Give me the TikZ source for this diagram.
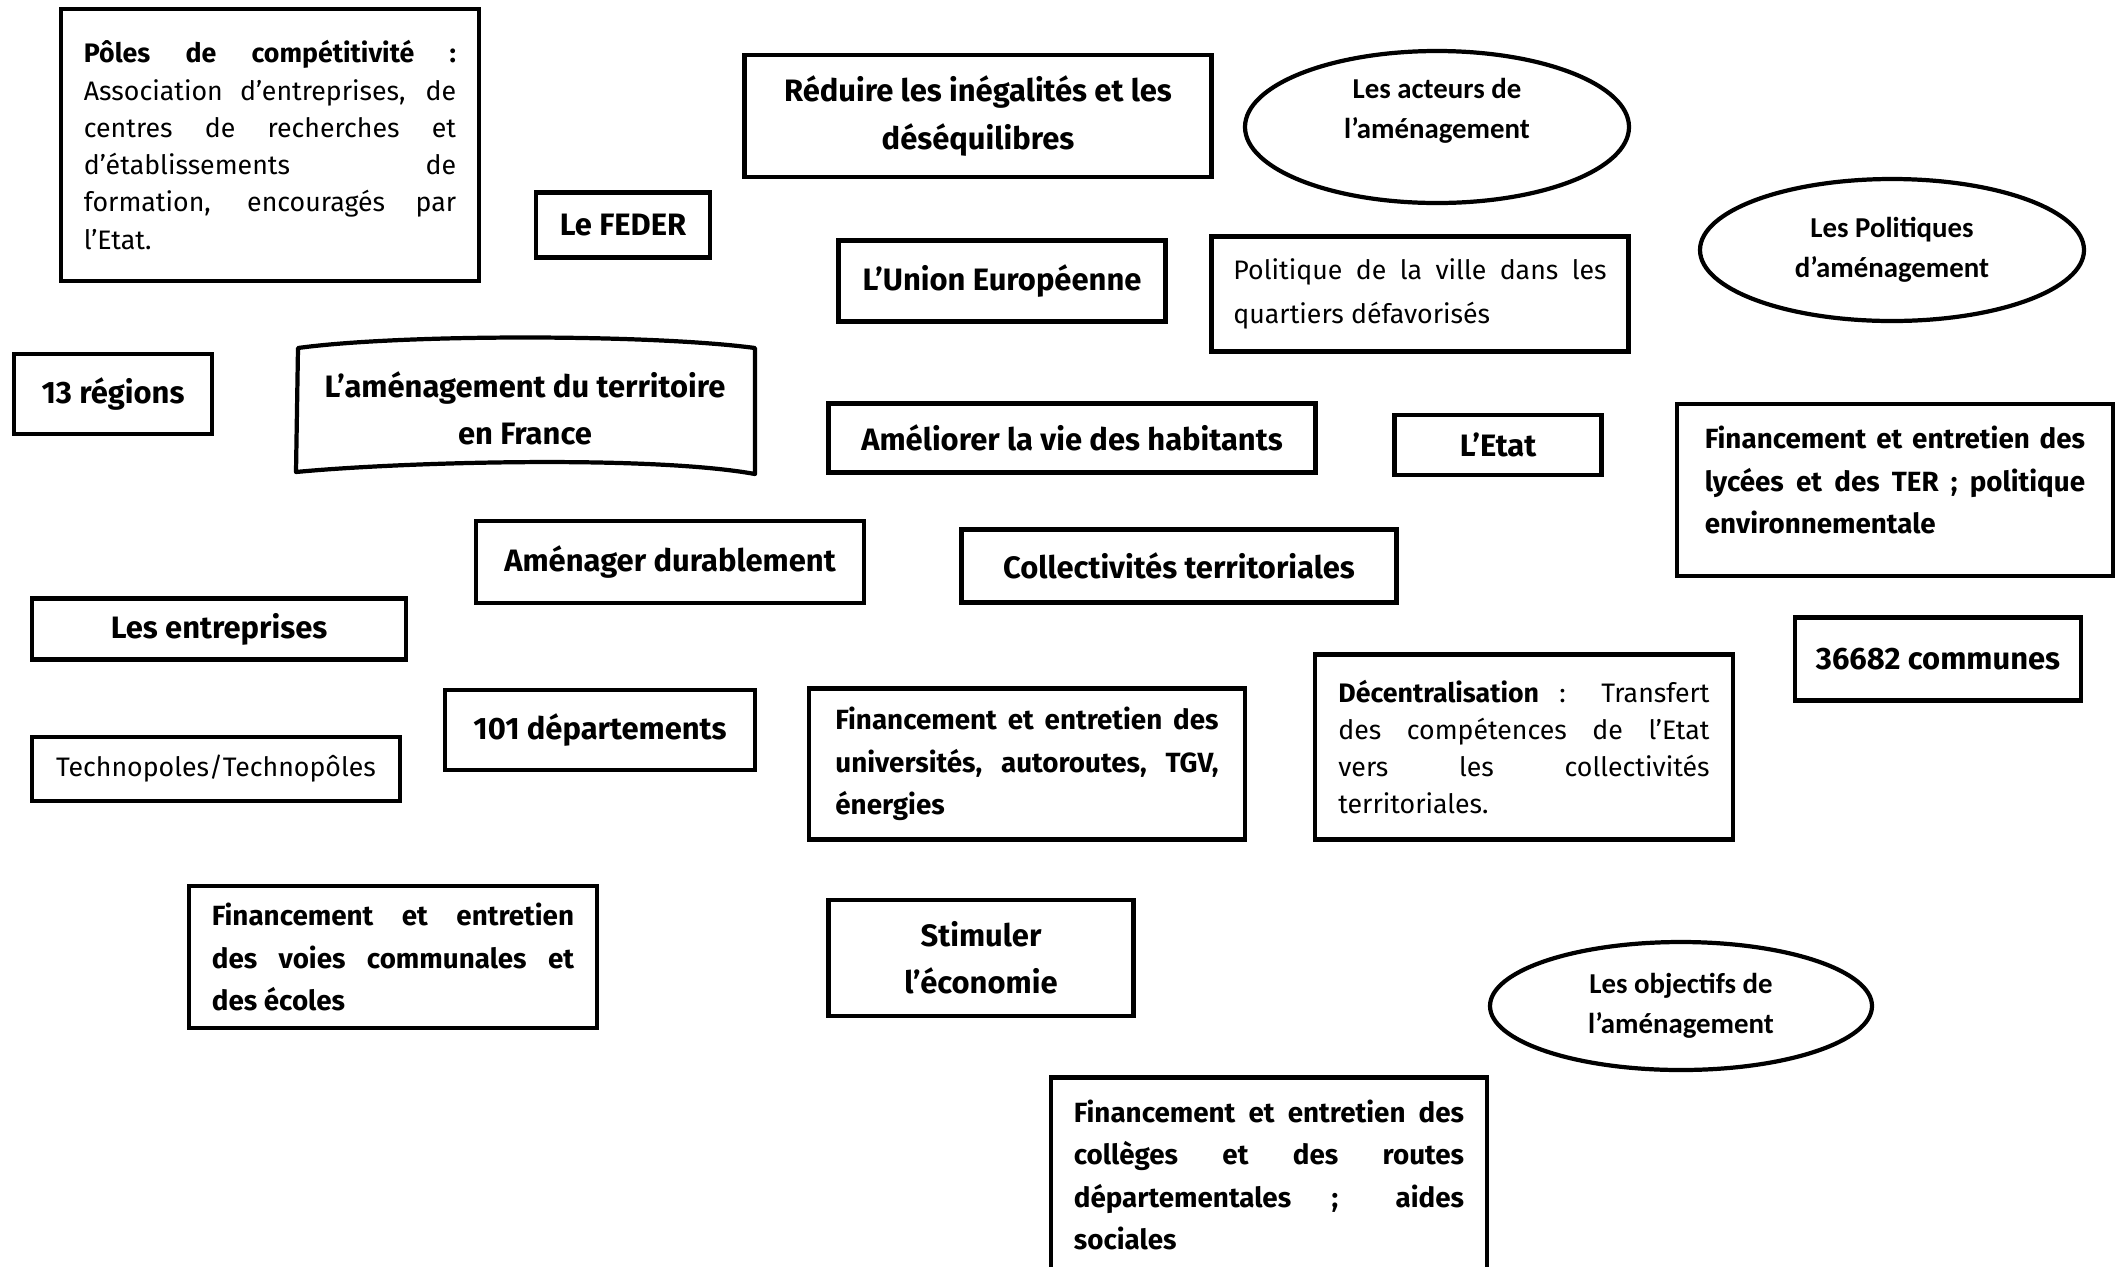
\documentclass[tikz,border=0pt]{standalone}
\usepackage{fontspec}
\setmainfont{Fira Sans}
\newfontfamily\calib{Carlito}
\usetikzlibrary{positioning,shapes.geometric}
\hyphenpenalty=10000
\exhyphenpenalty=10000
\newcommand{\boxlbl}{\fontsize{8.8}{13.4}\selectfont\bfseries}
\newcommand{\boldpara}{\fontsize{7.9}{12.1}\selectfont\bfseries}
\newcommand{\paratxt}{\fontsize{7.6}{10.6}\selectfont}
\newcommand{\ovaltxt}{\calib\fontsize{8.2}{11.5}\selectfont\bfseries}
\tikzset{B node/.style={draw,line width=1.2pt,inner sep=0pt,align=center,font=\boxlbl},
	O node/.style={ellipse,draw,line width=1.2pt,inner sep=0pt,align=center,font=\ovaltxt},
	wh/.style 2 args={minimum width=#1*0.01cm,minimum height=#2*0.01cm},}

\begin{document}
\begin{tikzpicture}[x=0.01cm,y=-0.01cm]
			\useasboundingbox (0,0) rectangle (2121,1266);

			\node[B node, wh={418}{272}, text width=3.72cm, align=justify, font=\paratxt] (poles) at (270,145) {\textbf{Pôles de compétitivité~:}\linebreak Association d’entreprises, de\linebreak centres de recherches et\linebreak d’établissements de\linebreak formation, encouragés par\linebreak l’Etat.};
			\node[B node, wh={467}{122}] (reduire) at (978,116) {Réduire les inégalités et les\\déséquilibres};
			\node[B node, wh={174}{65}] (feder) at (623,225) {Le FEDER};
			\node[B node, wh={327}{81}] (ue) at (1002,281) {L’Union Européenne};
			\node[B node, wh={417}{115}, text width=3.73cm, align=justify, font=\fontsize{7.6}{12.3}\selectfont] (ville) at (1420,294) {Politique de la ville dans les\linebreak quartiers défavorisés};
			\node[B node, wh={198}{80}] (regions) at (113,394) {13 régions};
			\node[B node, wh={487}{69}] (ameliorer) at (1072,438) {Améliorer la vie des habitants};
			\node[B node, wh={207}{60}] (etat) at (1498,445) {L’Etat};
			\node[B node, wh={436}{172}, text width=3.8cm, align=justify, font=\boldpara] (lycees) at (1895,490) {Financement et entretien des\linebreak lycées et des TER~; politique\linebreak environnementale\par\vspace{0.2cm}\hrule height 0pt};
			\node[B node, wh={388}{82}] (durable) at (670,562) {Aménager durablement};
			\node[B node, wh={435}{73}] (collectivites) at (1179,566) {Collectivités territoriales};
			\node[B node, wh={374}{61}] (entreprises) at (219,629) {Les entreprises};
			\node[B node, wh={286}{83}] (communes) at (1938,659) {36682 communes};
			\node[B node, wh={418}{185}, text width=3.71cm, align=justify, font=\paratxt] (decentral) at (1524,747) {\textbf{Décentralisation}~: Transfert\linebreak des compétences de l’Etat\linebreak vers les collectivités\linebreak territoriales.};
			\node[B node, wh={310}{80}] (departements) at (600,730) {101 départements};
			\node[B node, wh={436}{151}, text width=3.83cm, align=justify, font=\boldpara] (univ) at (1027,764) {Financement et entretien des\linebreak universités, autoroutes, TGV,\linebreak énergies};
			\node[B node, wh={368}{64}, font=\paratxt] (techno) at (216,769) {Technopoles/Technopôles};
			\node[B node, wh={408}{142}, text width=3.62cm, align=justify, font=\boldpara] (voies) at (393,957) {Financement et entretien\linebreak des voies communales et\linebreak des écoles};
			\node[B node, wh={305}{116}] (stimuler) at (981,958) {Stimuler\\l’économie};
			\node[B node, wh={436}{195}, text width=3.9cm, align=justify, font=\boldpara] (colleges) at (1269,1175) {Financement et entretien des\linebreak collèges et des routes\linebreak départementales~; aides\linebreak sociales};

			\node[O node, wh={384}{152}, label={[align=center, font=\ovaltxt, yshift=0.16cm]center:Les acteurs de\\l’aménagement}] (acteurs) at (1437,127) {};
			\node[O node, wh={384}{142}] (politiques) at (1892,250) {Les Politiques\\d’aménagement};
			\node[O node, wh={382}{128}] (objectifs) at (1681,1006) {Les objectifs de\\l’aménagement};

			\node[align=center, inner sep=0pt, font=\boxlbl] (territoire) at (525,408) {L’aménagement du territoire\\en France};
			\draw[line width=1.2pt, line join=round]
				(298,348) .. controls (400,334) and (650,334) .. (755,348)
				-- (755,474) .. controls (650,455) and (400,462) .. (296,472) -- cycle;
		\end{tikzpicture}
\end{document}
